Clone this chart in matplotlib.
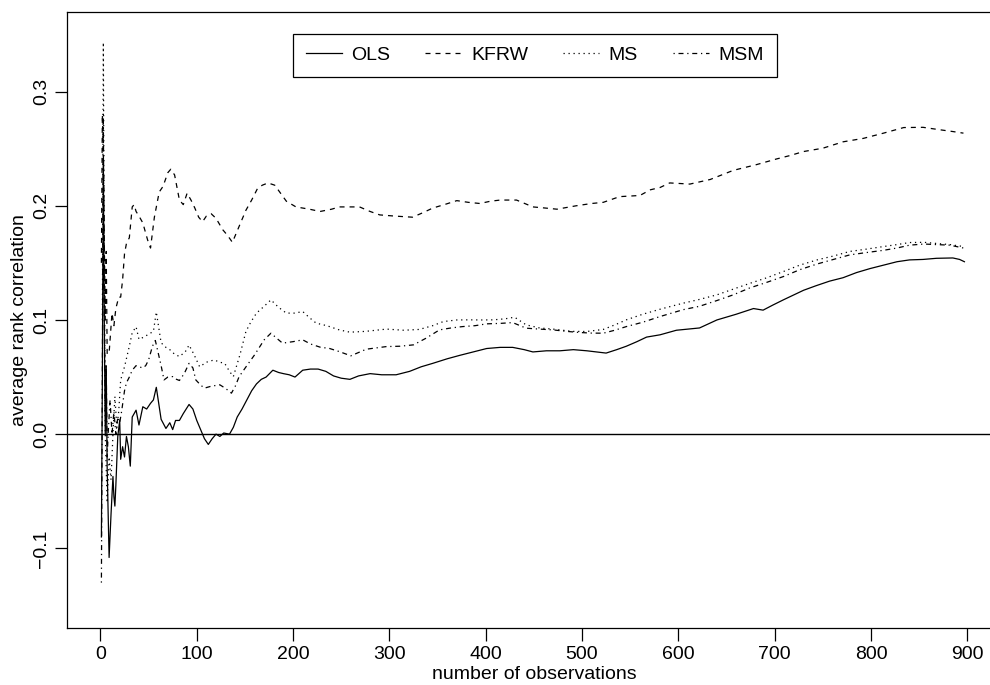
import matplotlib
matplotlib.use("Agg")
import matplotlib.pyplot as plt

plt.rcParams['font.family'] = ['Liberation Sans', 'DejaVu Sans']

ols_n = [1, 2, 3, 4, 5, 6, 7, 9, 11, 13, 14, 15, 16, 18, 20, 21, 23, 25, 27, 29, 31, 33, 37, 40,
         44, 48, 52, 55, 58, 63, 68, 72, 75, 78, 82, 86, 92, 96, 100, 104, 108, 112, 116, 120,
         124, 128, 134, 138, 142, 147, 152, 157, 162, 167, 172, 179, 185, 190, 196, 202, 210,
         218, 226, 234, 242, 250, 259, 268, 280, 292, 307, 321, 333, 345, 360, 373, 387, 401,
         415, 428, 440, 449, 463, 477, 491, 505, 515, 525, 536, 546, 557, 567, 581, 598, 610,
         622, 640, 660, 678, 688, 698, 709, 730, 743, 757, 771, 785, 799, 813, 827, 840, 854,
         868, 885, 892, 897]
ols_v = [-0.09, 0.05, 0.24, 0.10, 0.0, 0.06, -0.03, -0.108, -0.07, -0.037, -0.055, -0.063, -0.045,
         -0.002, 0.012, -0.022, -0.011, -0.02, -0.002, -0.011, -0.028, 0.015, 0.021, 0.008,
         0.024, 0.022, 0.027, 0.03, 0.041, 0.013, 0.005, 0.01, 0.004, 0.012, 0.012, 0.018, 0.026,
         0.022, 0.012, 0.004, -0.004, -0.009, -0.004, 0.0, -0.002, 0.001, 0.0, 0.006, 0.015,
         0.022, 0.03, 0.038, 0.044, 0.048, 0.05, 0.056, 0.054, 0.053, 0.052, 0.05, 0.056, 0.057,
         0.057, 0.055, 0.051, 0.049, 0.048, 0.051, 0.053, 0.052, 0.052, 0.055, 0.059, 0.062,
         0.066, 0.069, 0.072, 0.075, 0.076, 0.076, 0.074, 0.072, 0.073, 0.073, 0.074, 0.073,
         0.072, 0.071, 0.074, 0.077, 0.081, 0.085, 0.087, 0.091, 0.092, 0.093, 0.100, 0.105,
         0.110, 0.1086, 0.113, 0.1176, 0.126, 0.130, 0.134, 0.137, 0.1415, 0.145, 0.148, 0.151,
         0.1526, 0.153, 0.154, 0.1543, 0.153, 0.151]

kfrw_n = [1, 2, 3, 4, 5, 6, 7, 9, 12, 14, 16, 19, 21, 23, 25, 27, 30, 33, 35, 37, 40, 44, 49, 52,
          56, 61, 65, 70, 73, 77, 82, 86, 90, 94, 98, 102, 106, 110, 115, 120, 127, 132, 137,
          141, 146, 151, 157, 163, 168, 174, 181, 187, 193, 203, 217, 228, 240, 248, 258, 269,
          280, 290, 305, 324, 335, 345, 357, 370, 382, 394, 405, 415, 432, 449, 462, 474, 494,
          510, 522, 539, 560, 571, 581, 591, 612, 633, 645, 657, 681, 702, 716, 730, 750, 771,
          792, 813, 834, 854, 872, 885, 896]
kfrw_v = [0.15, 0.28, 0.25, 0.17, 0.10, 0.16, 0.07, 0.071, 0.106, 0.095, 0.11, 0.12, 0.12, 0.135,
          0.158, 0.167, 0.172, 0.199, 0.201, 0.195, 0.191, 0.185, 0.17, 0.163, 0.19, 0.212,
          0.217, 0.229, 0.232, 0.227, 0.205, 0.201, 0.211, 0.205, 0.198, 0.19, 0.186, 0.191,
          0.193, 0.189, 0.179, 0.174, 0.168, 0.176, 0.186, 0.196, 0.205, 0.215, 0.218, 0.22,
          0.218, 0.211, 0.204, 0.199, 0.197, 0.195, 0.197, 0.199, 0.199, 0.199, 0.195, 0.192,
          0.191, 0.190, 0.194, 0.198, 0.201, 0.2045, 0.203, 0.202, 0.204, 0.205, 0.205, 0.199,
          0.198, 0.197, 0.200, 0.202, 0.203, 0.208, 0.209, 0.214, 0.216, 0.220, 0.219, 0.223,
          0.227, 0.231, 0.236, 0.241, 0.244, 0.2475, 0.2504, 0.256, 0.259, 0.2636, 0.2685,
          0.2687, 0.2665, 0.265, 0.2636]

ms_n = [2, 3, 4, 5, 7, 9, 11, 13, 15, 17, 19, 21, 25, 30, 33, 37, 40, 45, 51, 55, 58, 63, 68, 72,
        77, 82, 88, 92, 97, 103, 110, 118, 124, 129, 134, 138, 145, 151, 156, 162, 170, 177,
        185, 193, 202, 210, 217, 224, 235, 248, 259, 275, 297, 315, 331, 345, 356, 370, 383,
        396, 408, 420, 430, 442, 456, 470, 490, 505, 522, 535, 546, 563, 581, 605, 622, 640,
        657, 674, 692, 709, 726, 744, 761, 778, 795, 813, 827, 840, 855, 868, 882, 896]
ms_v = [0.10, 0.343, 0.15, 0.0, -0.06, -0.02, -0.04, 0.0, 0.033, 0.006, 0.02, 0.0475, 0.059,
        0.077, 0.089, 0.094, 0.083, 0.085, 0.088, 0.09, 0.107, 0.08, 0.076, 0.074, 0.07, 0.068,
        0.072, 0.078, 0.07, 0.059, 0.063, 0.065, 0.063, 0.062, 0.055, 0.0504, 0.07, 0.0898,
        0.098, 0.106, 0.112, 0.1176, 0.111, 0.106, 0.106, 0.1074, 0.102, 0.0972, 0.095, 0.0913,
        0.0893, 0.09, 0.092, 0.091, 0.0917, 0.095, 0.0986, 0.1, 0.1001, 0.1, 0.1001, 0.101,
        0.1024, 0.0957, 0.093, 0.092, 0.090, 0.0899, 0.0917, 0.096, 0.1001, 0.105, 0.1094,
        0.1147, 0.118, 0.122, 0.127, 0.132, 0.137, 0.1424, 0.148, 0.1526, 0.156, 0.16, 0.162,
        0.1643, 0.166, 0.1678, 0.168, 0.167, 0.166, 0.1643]

msm_n = [1, 2, 3, 4, 5, 6, 7, 8, 10, 12, 14, 16, 18, 20, 22, 25, 27, 30, 33, 37, 40, 44, 47, 50,
         54, 57, 60, 63, 66, 70, 75, 79, 82, 87, 92, 96, 99, 104, 108, 115, 124, 130, 136, 140,
         144, 152, 160, 165, 170, 177, 183, 189, 200, 210, 218, 228, 238, 248, 260, 276, 297,
         311, 325, 338, 352, 364, 376, 389, 401, 415, 428, 442, 456, 470, 484, 498, 510, 522,
         534, 546, 563, 581, 605, 622, 640, 657, 674, 692, 709, 726, 744, 761, 778, 795, 813,
         827, 840, 855, 868, 882, 896]
msm_v = [-0.13, 0.05, 0.28, 0.12, 0.02, 0.06, -0.02, 0.0, 0.03, 0.0, 0.02, 0.0, 0.015, 0.01,
         0.02, 0.038, 0.045, 0.05, 0.056, 0.06, 0.059, 0.058, 0.06, 0.065, 0.077, 0.082, 0.071,
         0.06, 0.0475, 0.05, 0.0504, 0.048, 0.047, 0.053, 0.062, 0.058, 0.0475, 0.043, 0.0403,
         0.042, 0.0432, 0.04, 0.0359, 0.042, 0.0504, 0.06, 0.0694, 0.076, 0.0826, 0.0884, 0.084,
         0.0797, 0.081, 0.0826, 0.079, 0.0762, 0.075, 0.0723, 0.0686, 0.0744, 0.0767, 0.077,
         0.0782, 0.084, 0.0913, 0.093, 0.0942, 0.095, 0.0966, 0.097, 0.0977, 0.0928, 0.092,
         0.0913, 0.090, 0.089, 0.0885, 0.0884, 0.091, 0.0942, 0.098, 0.103, 0.109, 0.112, 0.117,
         0.122, 0.128, 0.133, 0.138, 0.144, 0.149, 0.153, 0.157, 0.159, 0.161, 0.163, 0.1655,
         0.1665, 0.166, 0.1655, 0.163]

x_ticks = [0, 100, 200, 300, 400, 500, 600, 700, 800, 900]
y_ticks = [-0.1, 0.0, 0.1, 0.2, 0.3]
y_tick_labels = ["\u22120.1", "0.0", "0.1", "0.2", "0.3"]

fig = plt.figure(figsize=(9.9, 6.85), dpi=100)
ax = fig.add_axes([0.0674, 0.0828, 0.9447, 0.9002])

lw = 0.9
ax.plot(ols_n, ols_v, color="black", lw=lw, label="OLS")
ax.plot(kfrw_n, kfrw_v, color="black", lw=lw, dashes=(4, 4), label="KFRW")
ax.plot(ms_n, ms_v, color="black", lw=lw, dashes=(1, 3), label="MS")
ax.plot(msm_n, msm_v, color="black", lw=lw, dashes=(1, 3, 4, 3), label="MSM")
ax.axhline(0, color="black", lw=1.0)

ax.set_xlim(-35, 936)
ax.set_ylim(-0.170, 0.370)
ax.set_xticks(x_ticks)
ax.set_yticks(y_ticks)
ax.set_yticklabels(y_tick_labels)
ax.tick_params(axis="both", direction="out", length=9, width=0.9, labelsize=14, pad=4)
ax.tick_params(axis="y", labelrotation=90, pad=3)
for lab in ax.get_yticklabels():
    lab.set_va("center")

for side in ["left", "bottom", "top"]:
    ax.spines[side].set_linewidth(0.9)
    ax.spines[side].set_color("black")
ax.spines["right"].set_visible(False)

ax.set_xlabel("number of observations", fontsize=14, labelpad=2)
ax.set_ylabel("average rank correlation", fontsize=14, labelpad=4)

leg = ax.legend(loc="upper center", bbox_to_anchor=(0.5007, 0.9638), ncol=4, fontsize=14,
                frameon=True, fancybox=False, framealpha=1, edgecolor="black",
                handlelength=1.85, handletextpad=0.5, columnspacing=1.8,
                borderpad=0.65, borderaxespad=0)
leg.get_frame().set_linewidth(0.9)

fig.savefig("out.png", dpi=100, facecolor="white")
